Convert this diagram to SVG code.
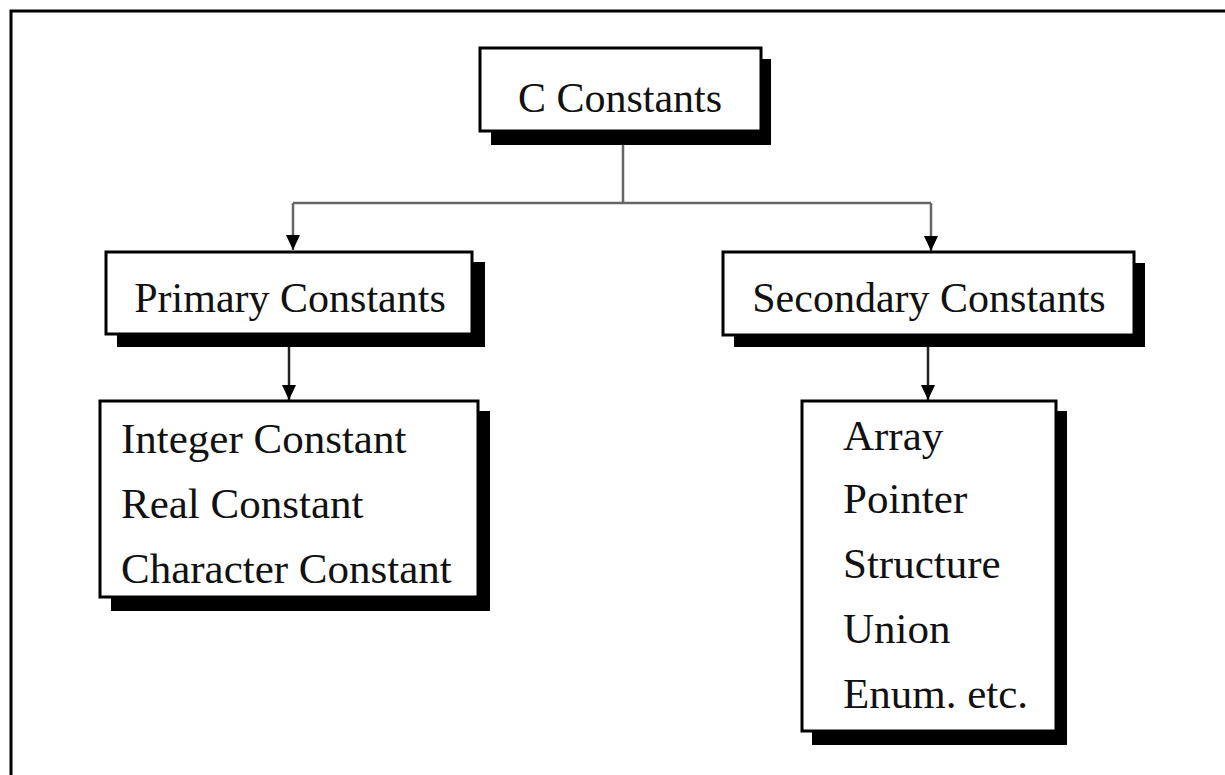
<svg xmlns="http://www.w3.org/2000/svg" width="1225" height="775" viewBox="0 0 1225 775">
<style>
.box{fill:#fff;stroke:#000;stroke-width:3}
.shadow{fill:#000}
.t{font-family:"Liberation Serif","Times New Roman",serif;font-size:42px;fill:#111}
.tl{font-family:"Liberation Serif","Times New Roman",serif;font-size:43px;fill:#111}
.c{text-anchor:middle}
.conn{fill:none;stroke:#666;stroke-width:2.5}
.conn2{fill:none;stroke:#222;stroke-width:2.5}
</style>
<defs>
<marker id="ah" markerUnits="userSpaceOnUse" markerWidth="16" markerHeight="14" refX="15" refY="7" orient="auto">
<path d="M0,0 L15,7 L0,14 Z" fill="#000"/>
</marker>
</defs>
<rect width="1225" height="775" fill="#fff"/>
<path d="M11,775 V11 H1225" fill="none" stroke="#000" stroke-width="3"/>
<g id="connectors">
<path class="conn" d="M623,132 V203"/>
<path class="conn" d="M293,203 H931"/>
<path class="conn" d="M293,203 V250" marker-end="url(#ah)"/>
<path class="conn" d="M931,203 V251" marker-end="url(#ah)"/>
<path class="conn2" d="M289,335 V400" marker-end="url(#ah)"/>
<path class="conn2" d="M928,336 V400" marker-end="url(#ah)"/>
</g>
<g id="c-constants">
<rect class="shadow" x="491" y="59" width="280" height="86"/>
<rect class="box" x="480" y="48" width="281" height="83"/>
<text class="t c" x="620" y="112">C Constants</text>
</g>
<g id="primary">
<rect class="shadow" x="117" y="262" width="368" height="85"/>
<rect class="box" x="106" y="252" width="366" height="82"/>
<text class="t c" x="290" y="312">Primary Constants</text>
</g>
<g id="secondary">
<rect class="shadow" x="734" y="263" width="411" height="84"/>
<rect class="box" x="723" y="252" width="411" height="83"/>
<text class="t c" x="929" y="312">Secondary Constants</text>
</g>
<g id="primary-list">
<rect class="shadow" x="111" y="411" width="379" height="200"/>
<rect class="box" x="100" y="401" width="378" height="196"/>
<text class="tl" x="121" y="453">Integer Constant</text>
<text class="tl" x="121" y="518">Real Constant</text>
<text class="tl" x="121" y="583">Character Constant</text>
</g>
<g id="secondary-list">
<rect class="shadow" x="812" y="411" width="255" height="334"/>
<rect class="box" x="802" y="401" width="254" height="330"/>
<text class="tl" x="843" y="450">Array</text>
<text class="tl" x="843" y="513">Pointer</text>
<text class="tl" x="843" y="578">Structure</text>
<text class="tl" x="843" y="643">Union</text>
<text class="tl" x="843" y="708">Enum. etc.</text>
</g>
</svg>
